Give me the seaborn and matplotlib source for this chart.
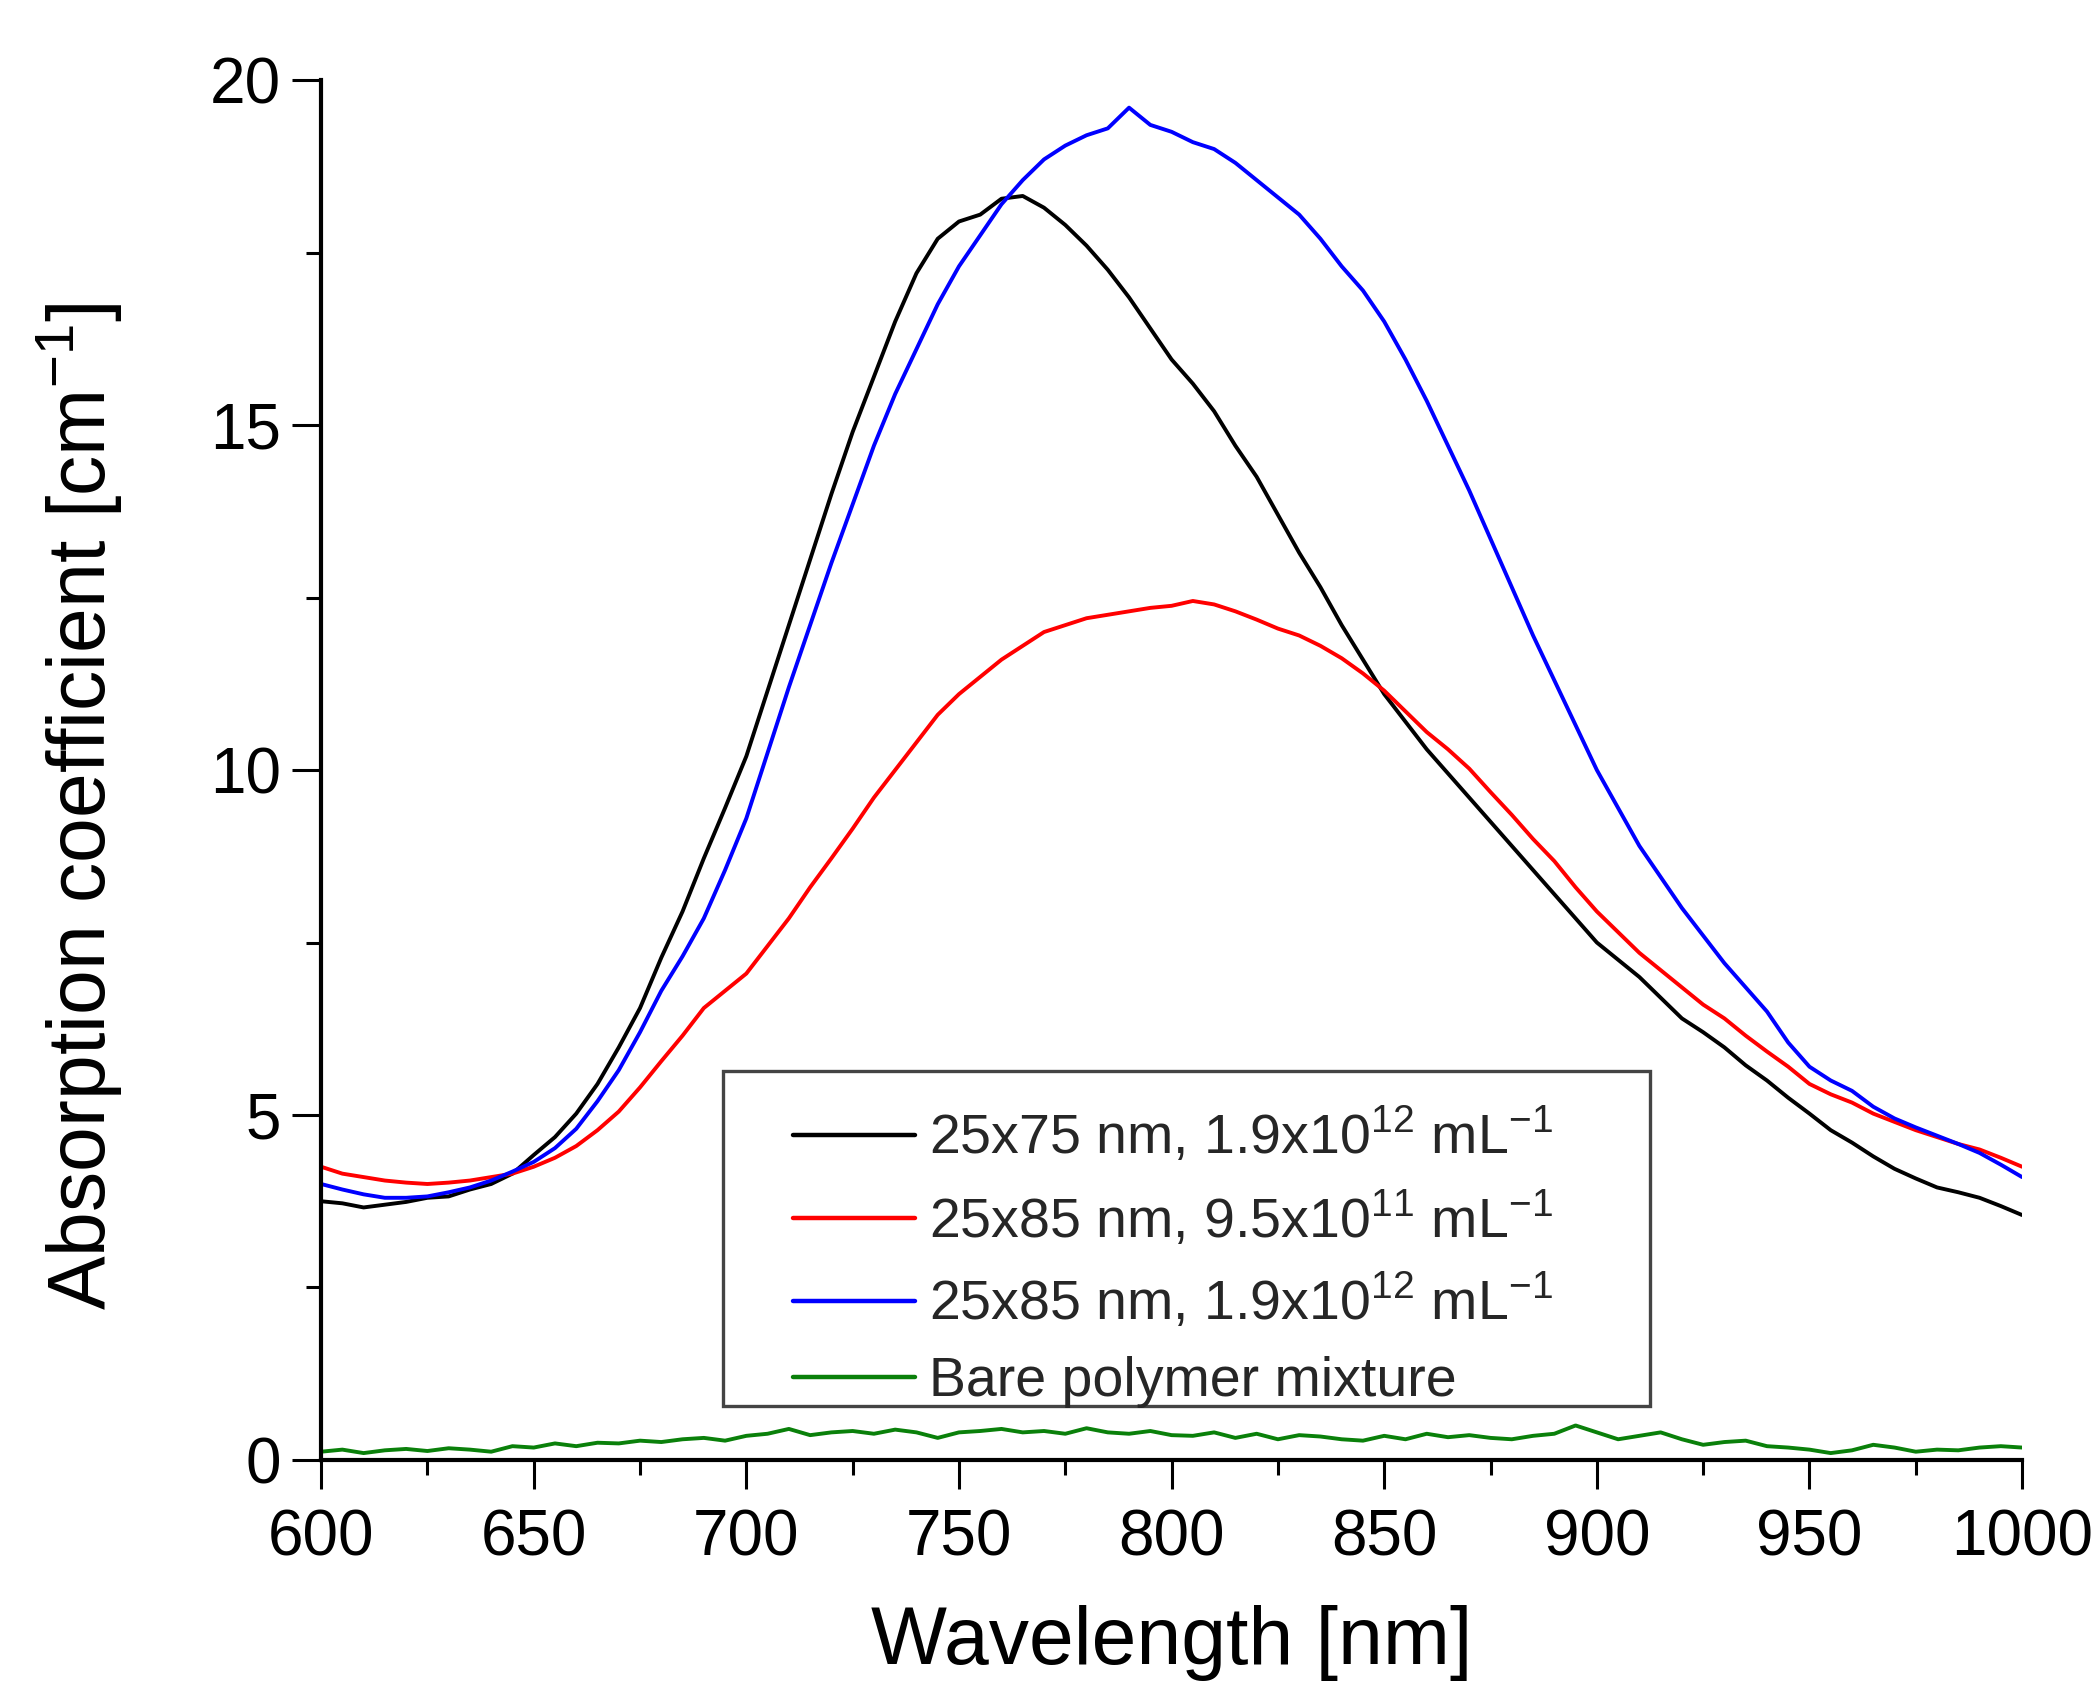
import matplotlib
matplotlib.use("Agg")
import matplotlib.pyplot as plt
from matplotlib.patches import Rectangle
import seaborn as sns
import numpy as np
import pandas as pd

# wavelength grid (nm), values every 5 nm
wavelength = np.arange(600, 1001, 5)

# 25x75 nm, 1.9x10^12 mL^-1
black_vals = [3.75, 3.72, 3.66, 3.70, 3.74, 3.80, 3.82, 3.92, 4.00, 4.15,
              4.42, 4.68, 5.02, 5.45, 5.98, 6.55, 7.28, 7.95, 8.72, 9.45,
              10.20, 11.15, 12.10, 13.05, 14.00, 14.90, 15.70, 16.50, 17.20, 17.70,
              17.95, 18.05, 18.28, 18.32, 18.15, 17.90, 17.60, 17.25, 16.85, 16.40,
              15.95, 15.60, 15.20, 14.70, 14.25, 13.70, 13.15, 12.65, 12.10, 11.60,
              11.10, 10.70, 10.30, 9.95, 9.60, 9.25, 8.90, 8.55, 8.20, 7.85,
              7.50, 7.25, 7.00, 6.70, 6.40, 6.20, 5.98, 5.72, 5.50, 5.25,
              5.02, 4.78, 4.60, 4.40, 4.22, 4.08, 3.95, 3.88, 3.80, 3.68,
              3.55]

# 25x85 nm, 9.5x10^11 mL^-1
red_vals = [4.25, 4.15, 4.10, 4.05, 4.02, 4.00, 4.02, 4.05, 4.10, 4.15,
            4.25, 4.38, 4.55, 4.78, 5.05, 5.40, 5.78, 6.15, 6.55, 6.80,
            7.05, 7.45, 7.85, 8.30, 8.72, 9.15, 9.60, 10.00, 10.40, 10.80,
            11.10, 11.35, 11.60, 11.80, 12.00, 12.10, 12.20, 12.25, 12.30, 12.35,
            12.38, 12.45, 12.40, 12.30, 12.18, 12.05, 11.95, 11.80, 11.62, 11.40,
            11.15, 10.85, 10.55, 10.30, 10.02, 9.68, 9.35, 9.00, 8.68, 8.30,
            7.95, 7.65, 7.35, 7.10, 6.85, 6.60, 6.40, 6.15, 5.92, 5.70,
            5.45, 5.30, 5.18, 5.02, 4.90, 4.78, 4.68, 4.58, 4.50, 4.38,
            4.25]

# 25x85 nm, 1.9x10^12 mL^-1
blue_vals = [4.00, 3.92, 3.85, 3.80, 3.80, 3.82, 3.88, 3.95, 4.05, 4.18,
             4.32, 4.52, 4.80, 5.20, 5.65, 6.20, 6.80, 7.30, 7.85, 8.55,
             9.30, 10.25, 11.20, 12.10, 13.00, 13.85, 14.70, 15.45, 16.10, 16.75,
             17.30, 17.75, 18.20, 18.55, 18.85, 19.05, 19.20, 19.30, 19.60, 19.35,
             19.25, 19.10, 19.00, 18.80, 18.55, 18.30, 18.05, 17.70, 17.30, 16.95,
             16.50, 15.95, 15.35, 14.70, 14.05, 13.35, 12.65, 11.95, 11.30, 10.65,
             10.00, 9.45, 8.90, 8.45, 8.00, 7.60, 7.20, 6.85, 6.50, 6.05,
             5.70, 5.50, 5.35, 5.12, 4.95, 4.82, 4.70, 4.58, 4.45, 4.28,
             4.10]

# bare polymer mixture
green_vals = [0.12, 0.15, 0.10, 0.14, 0.16, 0.13, 0.17, 0.15, 0.12, 0.20,
              0.18, 0.24, 0.20, 0.25, 0.24, 0.28, 0.26, 0.30, 0.32, 0.28,
              0.35, 0.38, 0.45, 0.36, 0.40, 0.42, 0.38, 0.44, 0.40, 0.32,
              0.40, 0.42, 0.45, 0.40, 0.42, 0.38, 0.46, 0.40, 0.38, 0.42,
              0.36, 0.35, 0.40, 0.32, 0.38, 0.30, 0.36, 0.34, 0.30, 0.28,
              0.35, 0.30, 0.38, 0.33, 0.36, 0.32, 0.30, 0.35, 0.38, 0.50,
              0.40, 0.30, 0.35, 0.40, 0.30, 0.22, 0.26, 0.28, 0.20, 0.18,
              0.15, 0.10, 0.14, 0.22, 0.18, 0.12, 0.15, 0.14, 0.18, 0.20,
              0.18]

labels = [r"25x75 nm, 1.9x10$^{\mathregular{12}}$ mL$^{\mathregular{-1}}$",
          r"25x85 nm, 9.5x10$^{\mathregular{11}}$ mL$^{\mathregular{-1}}$",
          r"25x85 nm, 1.9x10$^{\mathregular{12}}$ mL$^{\mathregular{-1}}$",
          "Bare polymer mixture"]
colors = ["black", "#ff0000", "#0000ff", "#0a800a"]

sns.set_theme(style="ticks")
plt.rcParams["font.family"] = ["Liberation Sans", "DejaVu Sans"]
plt.rcParams["mathtext.fontset"] = "custom"
plt.rcParams["mathtext.rm"] = "Liberation Sans"

# long-form table for seaborn
df = pd.concat([
    pd.DataFrame({"Wavelength": wavelength, "Absorption": vals, "series": lab})
    for vals, lab in zip([black_vals, red_vals, blue_vals, green_vals], labels)
])

fig = plt.figure(figsize=(21, 16.82), dpi=100)
ax = fig.add_axes([0.1529, 0.132, 0.810, 0.8204])

sns.lineplot(data=df, x="Wavelength", y="Absorption", hue="series",
             hue_order=labels, palette=colors, estimator=None,
             linewidth=2.8, ax=ax)

ax.set_xlim(600, 1000)
ax.set_ylim(0, 20)
ax.set_xticks(range(600, 1001, 50))
ax.set_xticks(range(625, 1000, 50), minor=True)
ax.set_yticks([0, 5, 10, 15, 20])
ax.set_yticks([2.5, 7.5, 12.5, 17.5], minor=True)

sns.despine(ax=ax)
for side in ["left", "bottom"]:
    ax.spines[side].set_linewidth(3)
    ax.spines[side].set_color("black")

ax.tick_params(axis="both", which="major", direction="out", length=21, width=2.2,
               labelsize=46, color="black", labelcolor="black")
ax.tick_params(axis="both", which="minor", direction="out", length=11, width=2.2,
               color="black")
ax.tick_params(axis="x", which="major", pad=14)
ax.tick_params(axis="y", which="major", pad=8)

ax.set_xlabel("Wavelength [nm]", fontsize=58, color="black")
ax.set_ylabel(r"Absorption coefficient [cm$^{\mathregular{-1}}$]", fontsize=58, color="black")
ax.xaxis.set_label_coords(0.5, -0.105)
ax.yaxis.set_label_coords(-0.115, 0.474)

# legend frame drawn as a box, entries placed inside it
ax.add_patch(Rectangle((0.2363, 0.0391), 0.545, 0.2428, transform=ax.transAxes,
                       facecolor="white", edgecolor="#444444", linewidth=2.4,
                       zorder=5))
handles, _ = ax.get_legend_handles_labels()
leg = ax.legend(handles, labels, loc="upper left", bbox_to_anchor=(0.2775, 0.256),
                fontsize=40, frameon=False, handlelength=2.2,
                handletextpad=0.25, labelspacing=0.43, borderpad=0,
                borderaxespad=0)
leg.set_zorder(6)
for line in leg.get_lines():
    line.set_linewidth(3.2)

fig.savefig("out.png", dpi=100)
